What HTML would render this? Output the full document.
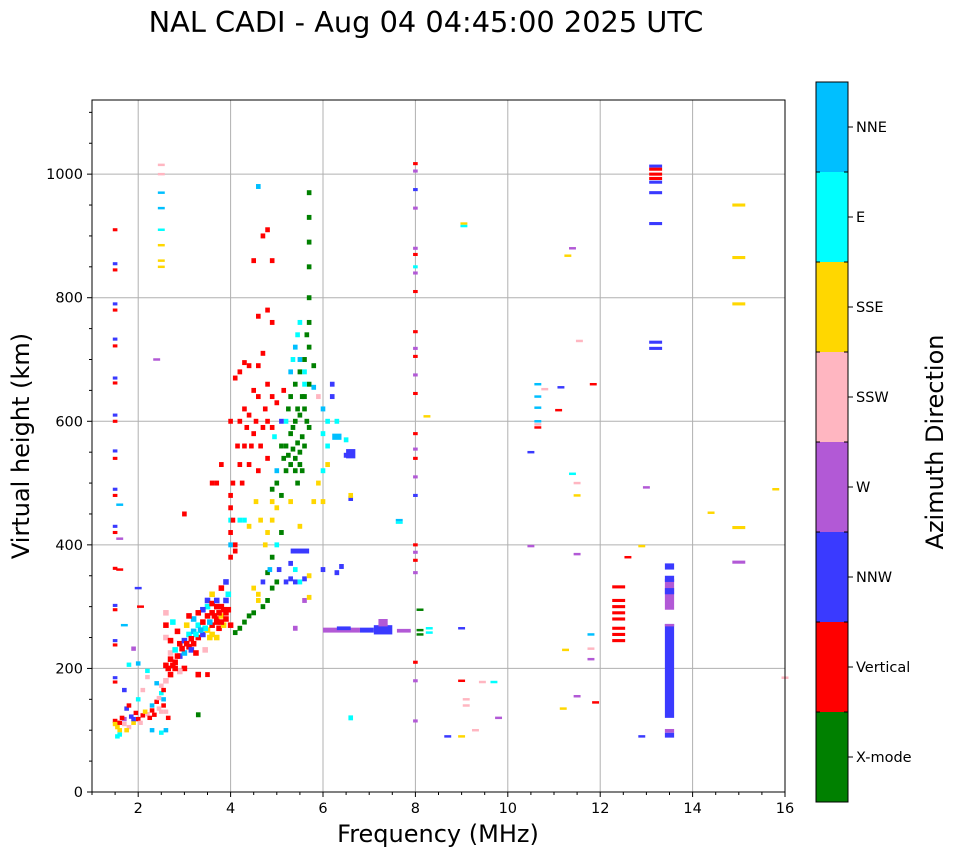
<!DOCTYPE html>
<html><head><meta charset="utf-8">
<style>
html,body{margin:0;padding:0;background:#fff;}
body{width:958px;height:857px;overflow:hidden;font-family:"DejaVu Sans","Liberation Sans",sans-serif;}
svg text{font-family:"DejaVu Sans","Liberation Sans",sans-serif;}
</style></head>
<body>
<svg id="chart" width="958" height="857" viewBox="0 0 958 857" xmlns="http://www.w3.org/2000/svg">
<text x="426" y="32" text-anchor="middle" font-size="28.8">NAL CADI - Aug 04 04:45:00 2025 UTC</text>
<g id="grid"></g>
<g id="marks"></g>
<rect x="92" y="100" width="693" height="692" fill="none" stroke="#000" stroke-width="1"/>
<g id="axes"></g>
<text x="438" y="842" text-anchor="middle" font-size="24">Frequency (MHz)</text>
<text transform="translate(29,446) rotate(-90)" text-anchor="middle" font-size="24">Virtual height (km)</text>
<g id="colorbar"></g>
<text transform="translate(943,442) rotate(-90)" text-anchor="middle" font-size="24">Azimuth Direction</text>
</svg>
<script>
const dirLabels = ["X-mode","Vertical","NNW","W","SSW","SSE","E","NNE"];
const dirColors = ["#008000","#ff0000","#3a3aff","#b259d6","#ffb6c1","#ffd700","#00ffff","#00bfff"];
const xTicks = [2,4,6,8,10,12,14,16];
const yTicks = [0,200,400,600,800,1000];
// single echoes: [freqMHz, heightKm, directionIndex]
const lowEchoes = [
[1.5,115,1],[1.5,110,5],[1.6,100,5],[1.6,93,6],[1.7,118,3],[1.7,110,4],[1.8,105,4],[1.9,112,5],[1.85,122,2],[1.95,128,1],[2.0,118,1],[2.1,124,1],[2.2,126,4],[2.3,132,1],[2.3,140,7],[2.4,146,1],[2.45,152,4],[2.5,160,6],[2.5,172,4],[2.4,176,7],[2.2,186,4],[2.2,196,6],[2.0,208,7],[1.8,206,6],[1.9,232,3],[2.5,96,6],[2.3,100,7],[2.6,130,4],[2.65,120,1],[1.75,135,2],[1.8,140,1],[1.6,112,1],[2.05,112,4],[2.55,140,1],[2.0,150,6],[2.1,165,4],[1.7,165,2],[2.6,100,7],[1.55,105,5],[1.55,90,6],
[2.35,125,1],[2.25,120,1],[2.15,130,5],[2.45,135,4],[2.5,130,4],[2.55,150,7],[2.55,165,1],[1.65,120,1],[1.75,100,5],[1.9,118,2]
];
const eTrace = [
[2.6,205,1],[2.7,215,1],[2.7,225,4],[2.8,210,1],[2.8,230,6],[2.9,220,2],[2.9,240,1],[3.0,225,7],[3.0,245,2],[3.1,235,1],[3.1,255,6],[3.2,240,1],[3.2,260,7],[3.3,250,1],[3.3,270,6],[3.4,255,2],[3.4,275,1],[3.5,262,5],[3.5,285,1],[3.6,270,1],[3.6,290,1],[3.7,280,1],[3.7,300,1],[3.8,285,5],[3.8,300,1],[3.9,290,1],[3.9,310,2],[3.5,300,6],[3.4,295,2],[3.3,290,1],[3.2,280,7],[3.6,255,5],[3.7,250,5],[3.0,200,1],[2.9,195,4],[2.8,200,1],[2.7,190,1],[2.6,180,4],[2.6,250,4],[2.6,270,1],[2.6,290,4],[2.7,245,1],[3.05,270,5],[3.15,230,2],[3.25,225,1],[3.45,230,4],[3.3,190,1],[3.6,320,5],[3.8,330,1],[3.9,340,2],[3.95,320,6],[3.5,310,2],[3.1,285,1],[2.85,260,1],[2.75,275,6],[3.75,265,1],[3.85,270,5],[4.0,270,1],
[3.65,285,1],[3.75,290,1],[3.85,295,1],[3.95,295,1],[3.7,275,1],[3.8,275,1],[3.55,275,7],[3.45,265,6],[3.35,262,7],[3.25,255,6],[3.15,248,1],[3.05,240,1],[2.95,232,1],[2.85,220,1],[2.75,205,1],[2.65,200,1],[3.6,305,1],[3.7,310,2],[3.9,280,1],[3.55,250,5]
];
const fTrace = [
[4.0,380,1],[4.0,400,7],[4.0,420,1],[4.0,440,6],[4.0,460,1],[4.0,480,1],[4.0,600,1],[4.1,390,1],[4.1,400,1],[4.2,440,6],[4.3,440,6],[4.4,430,5],[4.2,530,1],[4.3,560,1],[4.4,530,1],[4.6,520,1],[4.8,540,1],[4.2,600,1],[4.3,620,1],[4.4,610,1],[4.5,650,1],[4.6,640,1],[4.5,580,1],[4.7,590,1],[4.8,600,1],[4.9,590,1],[4.2,680,1],[4.3,695,1],[4.6,690,1],[4.8,660,1],[4.9,640,1],[5.0,630,1],[4.6,770,1],[4.9,760,1],[4.5,860,1],[4.7,900,1],[4.8,910,1],[4.6,980,7],[4.9,860,1],[4.8,780,1],[4.1,670,1],[3.8,530,1],[3.7,500,1],[3.6,500,1],[3.0,450,1],[3.5,190,1],
[4.5,330,5],[4.6,320,5],[4.7,300,0],[4.8,310,0],[4.9,330,0],[5.0,340,0],[4.5,290,0],[4.4,285,0],[4.3,275,0],[4.2,265,0],[4.1,258,0],[4.6,310,5],[4.7,340,2],[4.8,355,0],[4.9,380,0],[5.0,400,6],[4.8,420,5],[4.9,440,5],[5.0,460,5],[4.9,490,0],[5.0,500,0],[5.1,480,0],[5.2,520,0],[5.3,530,0],[5.4,540,0],[5.5,550,0],[5.2,560,0],[5.3,580,0],[5.4,600,0],[5.5,610,0],[5.6,620,0],[5.2,600,6],[5.3,640,0],[5.4,660,0],[5.5,680,0],[5.6,700,0],[5.7,720,0],[5.7,760,0],[5.7,800,0],[5.7,850,0],[5.7,890,0],[5.7,930,0],[5.7,970,0],[5.6,640,0],[5.7,660,0],[5.8,690,0],[5.1,560,0],[5.4,520,0],[5.5,530,0],[5.6,560,0],[5.7,590,0],[5.35,700,6],[5.4,720,7],[5.45,740,6],[5.5,760,6],[5.3,680,7],[5.8,655,7],[5.9,640,4],[6.0,620,7],[6.1,600,6],[6.0,580,6],[6.1,560,6],[6.2,640,2],[6.3,600,6],[6.5,570,6],[6.5,545,2],[6.0,520,6],[5.9,500,5],[6.1,530,5],[5.8,470,5],[5.5,430,5],[5.3,470,5],[5.1,420,0],[4.9,470,5],[5.0,520,7],[6.6,475,2],[6.6,480,5],[6.0,470,5],[6.2,660,2],
[5.2,340,2],[5.3,345,2],[5.4,340,2],[5.5,340,6],[5.6,345,2],[5.7,350,5],[5.4,360,6],[5.3,370,2],[6.0,360,2],[6.3,355,2],[6.4,365,2],[5.6,310,3],[5.7,315,5],[5.4,265,3],[6.6,120,6],[3.3,125,0],
[5.25,545,0],[5.35,555,0],[5.45,565,0],[5.55,575,0],[5.65,600,0],[5.35,590,0],[5.45,620,0],[5.55,640,0],[5.25,620,0],[5.15,540,0],[5.45,500,0],[5.55,520,0],[5.6,680,6],[5.5,700,7],[5.65,740,0],[5.6,660,6],[4.35,590,1],[4.45,560,1],[4.55,600,1],[4.65,560,1],[4.75,620,1],[4.15,560,1],[4.25,500,1],[4.05,440,1],[4.05,500,1],[4.95,575,6],[5.1,600,2],[5.15,650,1],[4.55,470,5],[4.65,440,5],[4.75,400,5],[4.85,360,7],[5.05,360,2],[4.4,690,1],[4.7,710,1]
];
const sparseEchoes = [
[2.0,330,2],[2.05,300,1],[1.7,270,7],[1.6,360,1],[1.6,465,7],[1.6,410,3],[2.4,700,3],[2.5,1015,4],[2.5,1000,4],[2.5,970,7],[2.5,945,7],[2.5,910,6],[2.5,885,5],[2.5,860,5],[2.5,850,5],
[9.05,920,5],[9.05,916,6],[8.25,608,5],[7.65,440,7],[7.65,436,6],[8.1,295,0],[8.3,265,6],[8.3,258,6],[8.1,262,0],[8.1,255,0],[9.0,180,1],[9.0,90,5],[8.7,90,2],[9.3,100,4],[9.1,150,4],[9.1,140,4],[9.45,178,4],[9.7,178,6],[9.8,120,3],[9.0,265,2],
[10.65,660,7],[10.8,652,4],[11.15,655,2],[11.85,660,1],[10.65,640,7],[10.65,622,7],[10.65,600,7],[10.65,595,4],[10.65,590,1],[11.1,618,1],[10.5,550,2],[11.4,515,6],[11.5,500,4],[11.5,480,5],[10.5,398,3],[11.5,385,3],[11.8,215,3],[11.8,232,4],[11.8,255,7],[11.9,145,1],[11.5,155,3],[11.2,135,5],[11.25,230,5],[11.3,868,5],[11.4,880,3],[11.55,730,4],[12.6,380,1],[12.9,398,5],[13.0,493,3],[14.4,452,5],[16.0,185,4],[15.8,490,5],[12.9,90,2]
];
const colEchoes = [
[1.5,910,1],[1.5,855,2],[1.5,845,1],[1.5,790,2],[1.5,780,1],[1.5,733,2],[1.5,722,1],[1.5,670,2],[1.5,662,1],[1.5,610,2],[1.5,600,1],[1.5,552,2],[1.5,540,1],[1.5,490,2],[1.5,480,1],[1.5,430,2],[1.5,420,1],[1.5,362,1],[1.5,302,2],[1.5,295,1],[1.5,245,2],[1.5,238,1],[1.5,185,2],[1.5,178,1],
[8.0,1017,1],[8.0,1005,3],[8.0,975,2],[8.0,945,3],[8.0,880,3],[8.0,870,1],[8.0,850,6],[8.0,840,3],[8.0,810,1],[8.0,745,1],[8.0,718,3],[8.0,705,1],[8.0,675,3],[8.0,645,1],[8.0,580,1],[8.0,555,3],[8.0,540,1],[8.0,510,3],[8.0,480,2],[8.0,400,1],[8.0,388,3],[8.0,375,1],[8.0,355,3],[8.0,210,1],[8.0,180,3],[8.0,115,3],
[13.2,1013,2],[13.2,1008,1],[13.2,1000,1],[13.2,993,1],[13.2,987,2],[13.2,970,2],[13.2,920,2],[13.2,728,2],[13.2,718,2],
[12.4,332,1],[12.4,310,1],[12.4,300,1],[12.4,290,1],[12.4,280,1],[12.4,265,1],[12.4,255,1],[12.4,245,1],
[15.0,950,5],[15.0,865,5],[15.0,790,5],[15.0,428,5],[15.0,372,3]
];
// rectangular bands: [f0, f1, h0, h1, dir]
const bands = [
[13.4,13.6,120,272,2],[13.4,13.6,268,272,3],[13.4,13.6,295,345,3],[13.4,13.6,320,330,2],[13.4,13.6,340,350,2],[13.4,13.6,360,370,2],[13.4,13.6,88,96,2],[13.4,13.6,96,102,3],
[6.0,6.8,258,266,3],[6.8,7.1,258,266,2],[7.1,7.5,255,270,2],[7.2,7.4,268,280,3],[6.3,6.6,262,268,2],[7.6,7.9,258,264,3],[5.3,5.7,386,394,2],[6.5,6.7,540,555,2],[6.2,6.4,570,580,7]
];

const X0=92,X1=785,Y0=792,Y1=100;
function xs(f){return X0+(f-1)*(X1-X0)/15;}
function ys(h){return Y0-h*(Y0-Y1)/1120;}
const NS="http://www.w3.org/2000/svg";
function mk(tag,attrs,parent){const e=document.createElementNS(NS,tag);for(const k in attrs)e.setAttribute(k,attrs[k]);parent.appendChild(e);return e;}
const grid=document.getElementById('grid'),marks=document.getElementById('marks'),axes=document.getElementById('axes'),cb=document.getElementById('colorbar');
xTicks.forEach(t=>{
 const x=xs(t);
 if(t<16){const l=mk('line',{x1:x,x2:x,y1:Y1,y2:Y0,stroke:'#b0b0b0','stroke-width':1},grid);
 
 }
 mk('line',{x1:x,x2:x,y1:Y0,y2:Y0+5,stroke:'#000'},axes);
 const tx=mk('text',{x:x,y:Y0+21,'text-anchor':'middle','font-size':14.5},axes);tx.textContent=t;
 
 
});
for(let t=1;t<16;t+=0.5){if(xTicks.indexOf(t)<0)mk('line',{x1:xs(t),x2:xs(t),y1:Y0,y2:Y0+3,stroke:'#000'},axes);}
yTicks.forEach(t=>{
 const y=ys(t);
 if(t>0){const l=mk('line',{x1:X0,x2:X1,y1:y,y2:y,stroke:'#b0b0b0','stroke-width':1},grid);
 
 }
 mk('line',{x1:X0-5,x2:X0,y1:y,y2:y,stroke:'#000'},axes);
 const tx=mk('text',{x:X0-9,y:y+5,'text-anchor':'end','font-size':14.5},axes);tx.textContent=t;
 
 
});
for(let t=50;t<1120;t+=50){if(t%200)mk('line',{x1:X0-3,x2:X0,y1:ys(t),y2:ys(t),stroke:'#000'},axes);}
function dot(p,w,hh){
 const r=mk('rect',{x:xs(p[0]-w/2),y:ys(p[1]+hh/2),width:xs(1+w)-X0,height:ys(0)-ys(hh),fill:dirColors[p[2]]},marks);
 
 
}
lowEchoes.forEach(p=>dot(p,0.1,7));
eTrace.forEach(p=>dot(p,0.12,9));
fTrace.forEach(p=>dot(p,0.1,8));
sparseEchoes.forEach(p=>dot(p,0.15,4));
colEchoes.forEach(p=>dot(p,p[0]>12?0.28:0.1,5));
bands.forEach(b=>{
 const r=mk('rect',{x:xs(b[0]),y:ys(b[3]),width:xs(b[1])-xs(b[0]),height:ys(b[2])-ys(b[3]),fill:dirColors[b[4]]},marks);
 
 
});
const CB_X=816,CB_W=32,CB_TOP=82,CB_BOT=802,segH=(CB_BOT-CB_TOP)/dirLabels.length;
dirLabels.forEach((lab,i)=>{
 const y=CB_BOT-(i+1)*segH;
 const r=mk('rect',{x:CB_X,y:y,width:CB_W,height:segH,fill:dirColors[i]},cb);
 
 
 mk('line',{x1:CB_X+CB_W,x2:CB_X+CB_W+5,y1:y+segH/2,y2:y+segH/2,stroke:'#000'},cb);
 const t=mk('text',{x:CB_X+CB_W+8,y:y+segH/2+5,'font-size':14.5},cb);t.textContent=lab;
 
 
});
for(let i=0;i<=dirLabels.length;i++){const y=CB_BOT-i*segH;mk('line',{x1:CB_X+CB_W-4,x2:CB_X+CB_W,y1:y,y2:y,stroke:'#000'},cb);mk('line',{x1:CB_X,x2:CB_X+4,y1:y,y2:y,stroke:'#000'},cb);}
mk('rect',{x:CB_X,y:CB_TOP,width:CB_W,height:CB_BOT-CB_TOP,fill:'none',stroke:'#000'},cb);
</script>
</body></html>
